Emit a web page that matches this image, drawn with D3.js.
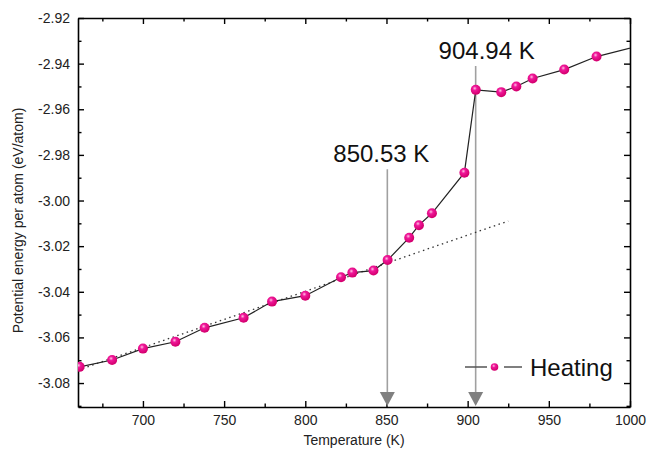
<!DOCTYPE html>
<html>
<head>
<meta charset="utf-8">
<script src="https://cdn.jsdelivr.net/npm/d3@7"></script>
<style>
  html, body { margin: 0; padding: 0; background: #fff; }
  svg { display: block; font-family: "Liberation Sans", Arial, sans-serif; }
</style>
</head>
<body>
<svg id="chart" width="649" height="453"></svg>
<script>
// ---- data ----
const temperature = [661, 681, 700, 720, 738, 762, 779.5, 800, 822, 829, 842, 850.7, 864, 870, 878, 898, 905, 920.7, 930, 940, 959.5, 979.4, 1020];
const energy = [-3.0729, -3.0699, -3.0649, -3.0619, -3.0558, -3.0514, -3.0443, -3.0417, -3.0336, -3.0316, -3.0307, -3.0261, -3.0163, -3.0108, -3.0056, -2.9878, -2.9515, -2.9525, -2.9500, -2.9465, -2.9426, -2.9369, -2.9296];
const fitX = [660, 925];
const fitY = [-3.0743, -3.0090];
const transitions = [850.53, 904.94];
const transitionLabels = ["850.53 K", "904.94 K"];
const transitionLabelY = [-2.9832, -2.9380];
const transitionLineTopY = [-2.9863, -2.9410];
const xTicks = [700, 750, 800, 850, 900, 950, 1000];
const xMinor = [675, 725, 775, 825, 875, 925, 975];
const yTicks = [-2.92, -2.94, -2.96, -2.98, -3.00, -3.02, -3.04, -3.06, -3.08];
const yMinor = [-2.93, -2.95, -2.97, -2.99, -3.01, -3.03, -3.05, -3.07, -3.09];
const seriesName = "Heating";

// ---- layout ----
const L = 78, R = 630, T = 18, B = 407;
const svg = d3.select("#chart");
const x = d3.scaleLinear().domain([660, 1000]).range([L, R]);
const y = d3.scaleLinear().domain([-3.0905, -2.92]).range([B, T]);

const defs = svg.append("defs");
defs.append("clipPath").attr("id", "clip").append("rect")
  .attr("x", L).attr("y", T).attr("width", R - L).attr("height", B - T);
const grad = defs.append("radialGradient").attr("id", "ball")
  .attr("cx", "40%").attr("cy", "35%").attr("r", "60%");
grad.append("stop").attr("offset", "0%").attr("stop-color", "#ffc4e4");
grad.append("stop").attr("offset", "35%").attr("stop-color", "#f0189a");
grad.append("stop").attr("offset", "100%").attr("stop-color", "#d4006f");

const fmtY = v => d3.format(".2f")(v).replace("−", "-");
const fmtX = d3.format("d");

// axes
function drawAxis(gen, tr, major, minor, labels, fmt) {
  const g = svg.append("g").attr("transform", tr);
  const a = gen.tickValues(major).tickSizeInner(-6).tickSizeOuter(0).tickPadding(8);
  a.tickFormat(labels ? fmt : "");
  g.call(a);
  g.select(".domain").attr("stroke", "#000").attr("stroke-width", 1.6);
  g.selectAll(".tick line").attr("stroke", "#000").attr("stroke-width", 1.4);
  g.selectAll(".tick text").attr("font-size", 14).attr("fill", "#222")
    .attr("font-family", "Liberation Sans, Arial, sans-serif");
  const g2 = svg.append("g").attr("transform", tr);
  const a2 = gen.tickValues(minor).tickSizeInner(-3.5).tickFormat("");
  g2.call(a2);
  g2.select(".domain").remove();
  g2.selectAll(".tick line").attr("stroke", "#000").attr("stroke-width", 1.4);
  return g;
}
const yMinorIn = yMinor.filter(v => v > -3.0905);
drawAxis(d3.axisBottom(x), `translate(0,${B})`, xTicks, xMinor, true, fmtX);
drawAxis(d3.axisTop(x), `translate(0,${T})`, xTicks, xMinor, false, fmtX);
drawAxis(d3.axisLeft(y), `translate(${L},0)`, yTicks, yMinorIn, true, fmtY);
drawAxis(d3.axisRight(y), `translate(${R},0)`, yTicks, yMinorIn, false, fmtY);

// axis titles
svg.append("text").attr("x", (L + R) / 2).attr("y", 445).attr("text-anchor", "middle")
  .attr("font-size", 14).attr("fill", "#222").text("Temperature (K)");
svg.append("text").attr("transform", `translate(23,${(T + B) / 2 + 8}) rotate(-90)`)
  .attr("text-anchor", "middle").attr("font-size", 14).attr("fill", "#222")
  .text("Potential energy per atom (eV/atom)");

// transition arrows
transitions.forEach((t, i) => {
  svg.append("line")
    .attr("x1", x(t)).attr("x2", x(t))
    .attr("y1", y(transitionLineTopY[i])).attr("y2", B - 14)
    .attr("stroke", "#a0a0a0").attr("stroke-width", 1.6);
  svg.append("path")
    .attr("d", `M${x(t) - 7.5},${B - 15} L${x(t) + 7.5},${B - 15} L${x(t)},${B - 1} Z`)
    .attr("fill", "#808080");
  svg.append("text")
    .attr("x", x(t) - (i === 0 ? 6 : -11)).attr("y", y(transitionLabelY[i]))
    .attr("text-anchor", "middle").attr("font-size", 24).attr("fill", "#111")
    .text(transitionLabels[i]);
});

const plot = svg.append("g").attr("clip-path", "url(#clip)");

// fit (dotted)
plot.append("path")
  .datum(fitX.map((v, i) => [v, fitY[i]]))
  .attr("d", d3.line().x(d => x(d[0])).y(d => y(d[1])))
  .attr("fill", "none").attr("stroke", "#333").attr("stroke-width", 1.3)
  .attr("stroke-dasharray", "1.5,3.5");

// data line
const pts = temperature.map((v, i) => [v, energy[i]]);
plot.append("path").datum(pts)
  .attr("d", d3.line().x(d => x(d[0])).y(d => y(d[1])))
  .attr("fill", "none").attr("stroke", "#222").attr("stroke-width", 1.2);

plot.selectAll("circle.pt").data(pts).enter().append("circle")
  .attr("class", "pt")
  .attr("cx", d => x(d[0])).attr("cy", d => y(d[1])).attr("r", 5)
  .attr("fill", "url(#ball)");

// legend
const ly = 367;
svg.append("line").attr("x1", 465).attr("x2", 487).attr("y1", ly).attr("y2", ly)
  .attr("stroke", "#555").attr("stroke-width", 1.5);
svg.append("line").attr("x1", 504).attr("x2", 522).attr("y1", ly).attr("y2", ly)
  .attr("stroke", "#555").attr("stroke-width", 1.5);
svg.append("circle").attr("cx", 494.5).attr("cy", ly).attr("r", 3.8).attr("fill", "url(#ball)");
svg.append("text").attr("x", 530).attr("y", 376).attr("font-size", 24).attr("fill", "#111")
  .text(seriesName);
</script>
</body>
</html>
